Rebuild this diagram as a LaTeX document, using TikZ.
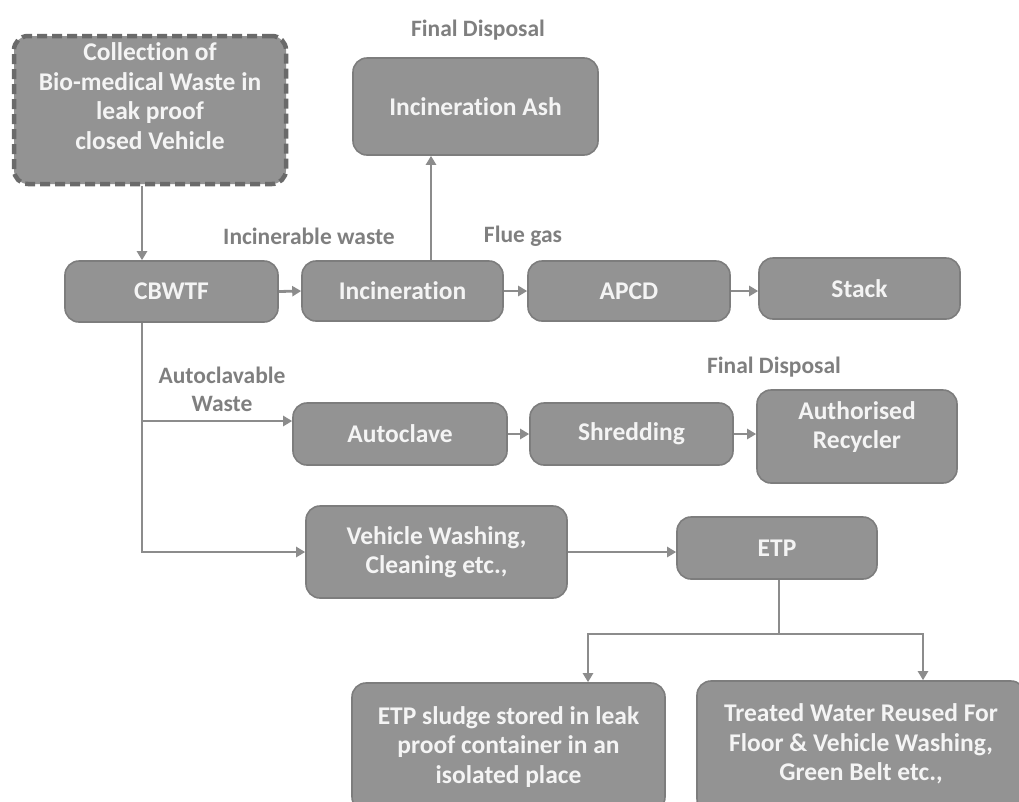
\documentclass[tikz,border=0pt]{standalone}
\usepackage{fontspec}
\setmainfont{Carlito}[Ligatures=NoCommon]
\usetikzlibrary{arrows.meta,calc}
\definecolor{boxfill}{HTML}{939393}
\definecolor{boxline}{HTML}{7D7D7D}
\definecolor{dashline}{HTML}{6A6A6A}
\definecolor{arrowc}{HTML}{8C8C8C}
\definecolor{labelc}{HTML}{7F7F7F}
\definecolor{txtc}{HTML}{F4F4F4}
\tikzset{
  box/.style={draw=boxline, line width=1.6pt, fill=boxfill, rounded corners=14pt,
    text=txtc, font=\fontsize{25.5}{29.5}\selectfont\bfseries, align=center, inner sep=0pt},
  dbox/.style={box, draw=dashline, line width=4.5pt, dash pattern=on 10pt off 5pt},
  txt/.style={text=txtc, font=\fontsize{25.5}{29.5}\selectfont\bfseries, align=center, inner sep=0pt},
  lbl/.style={text=labelc, font=\fontsize{23.5}{28}\selectfont\bfseries, align=center, inner sep=0pt},
  arr/.style={draw=arrowc, line width=2.8pt, -{Triangle[length=9pt,width=10pt]}},
  ln/.style={draw=arrowc, line width=2.8pt},
}
\begin{document}
\begin{tikzpicture}[x=1pt,y=-1pt]
\useasboundingbox (0,0) rectangle (1019,801);
\clip (0,0) rectangle (1019,801);
% boxes
\node[dbox, minimum width=272pt, minimum height=148pt] (coll) at (150,110) {};
\node[txt] (colltext) at (150,96) {Collection of\\Bio-medical Waste in\\leak proof\\closed Vehicle};
\node[box, minimum width=245pt, minimum height=97pt] (ash) at (475.5,106.5) {Incineration Ash};
\node[box, minimum width=213pt, minimum height=61pt] (cbwtf) at (171.5,291.5) {CBWTF};
\node[box, minimum width=201pt, minimum height=60pt] (incin) at (402.5,291) {Incineration};
\node[box, minimum width=202pt, minimum height=60pt] (apcd) at (629,291) {APCD};
\node[box, minimum width=201pt, minimum height=61pt] (stack) at (859.5,288.5) {Stack};
\node[box, minimum width=214pt, minimum height=62pt] (autoclave) at (400,434) {Autoclave};
\node[box, minimum width=203pt, minimum height=62pt] (shred) at (631.5,434) {Shredding};
\node[box, minimum width=200pt, minimum height=93pt] (recyc) at (857,436.5) {};
\node[txt] (recyctext) at (857,427) {Authorised\\Recycler};
\node[box, minimum width=261pt, minimum height=92pt] (vwash) at (436.5,552) {Vehicle Washing,\\Cleaning etc.,};
\node[box, minimum width=200pt, minimum height=62pt] (etp) at (777,548) {ETP};
\node[box, minimum width=313pt, minimum height=128pt] (sludge) at (508.5,747) {ETP sludge stored in leak\\proof container in an\\isolated place};
\node[box, minimum width=328pt, minimum height=132pt] (treated) at (861,747) {};
\node[txt] (treatedtext) at (861,744) {Treated Water Reused For\\Floor \& Vehicle Washing,\\Green Belt etc.,};
% labels
\node[lbl] (l1) at (478,30) {Final Disposal};
\node[lbl] (l2) at (309,236) {Incinerable waste};
\node[lbl] (l3) at (523,236) {Flue gas};
\node[lbl] (l4) at (222,389) {Autoclavable\\Waste};
\node[lbl] (l5) at (774,367) {Final Disposal};
% helper coordinates
\coordinate (tx) at (142,0);
\coordinate (ax) at (431,0);
\coordinate (b1) at (142,421);
\coordinate (ex) at (779,0);
\coordinate (hy) at (0,634);
\coordinate (sx) at (588,0);
\coordinate (rx) at (923,0);
% connectors
\draw[arr] (coll.south -| tx) -- (cbwtf.north -| tx);
\draw[arr] (cbwtf.east) -- (incin.west);
\draw[arr] (incin.east) -- (apcd.west);
\draw[arr] (apcd.east) -- (stack.west |- apcd.east);
\draw[arr] (incin.north -| ax) -- (ash.south -| ax);
\draw[arr] (cbwtf.south -| tx) |- (vwash.west);
\draw[arr] (b1) -- (autoclave.west |- b1);
\draw[arr] (autoclave.east) -- (shred.west);
\draw[arr] (shred.east) -- (recyc.west |- shred.east);
\draw[arr] (vwash.east) -- (etp.west |- vwash.east);
\draw[ln] (etp.south -| ex) -- (ex |- hy);
\draw[arr] (ex |- hy) -| (sludge.north -| sx);
\draw[arr] (ex |- hy) -| (treated.north -| rx);
\end{tikzpicture}
\end{document}
